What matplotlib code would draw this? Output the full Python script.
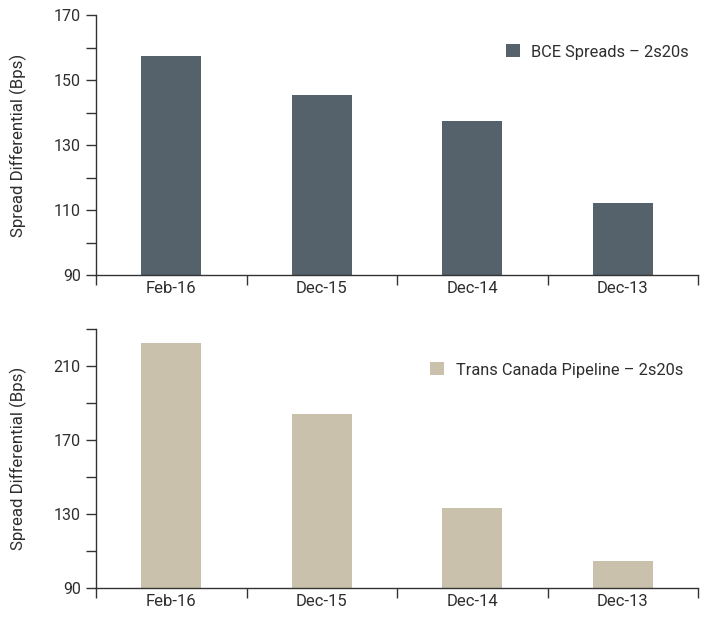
import matplotlib
matplotlib.use("Agg")
import matplotlib.pyplot as plt
from matplotlib.ticker import FixedLocator, NullFormatter

plt.rcParams['font.family'] = ['Roboto', 'DejaVu Sans']

categories = ["Feb-16", "Dec-15", "Dec-14", "Dec-13"]
bce_values = [157.3, 145.5, 137.3, 112.3]
tcp_values = [222.2, 184.0, 133.5, 104.7]
bce_label = "BCE Spreads – 2s20s"
tcp_label = "Trans Canada Pipeline – 2s20s"
ylabel = "Spread Differential (Bps)"

top_ylim = (90, 170)
top_major = [90, 110, 130, 150, 170]
top_minor = [100, 120, 140, 160]
bot_ylim = (90, 230)
bot_major = [90, 130, 170, 210]
bot_minor = [110, 150, 190, 230]

DARK = "#55626b"
BEIGE = "#c9c1ac"
TXT = "#2e2e2e"
SPINE = "#333333"

fig = plt.figure(figsize=(7.1, 6.2), dpi=100)
ax1 = fig.add_axes([96/710, 1-275/620, 602/710, 260/620])
ax2 = fig.add_axes([96/710, 1-588/620, 602/710, 259/620])

def style(ax, values, color, label, ylim, major, minor, leg_xy):
    x = list(range(len(categories)))
    ax.bar(x, values, width=0.4, color=color, label=label, zorder=2)
    ax.set_xlim(-0.5, len(categories) - 0.5)
    ax.set_ylim(*ylim)
    for s in ["top", "right"]:
        ax.spines[s].set_visible(False)
    for s in ["left", "bottom"]:
        ax.spines[s].set_color(SPINE)
        ax.spines[s].set_linewidth(1.0)
    ax.xaxis.set_major_locator(FixedLocator([i - 0.5 for i in range(len(categories) + 1)]))
    ax.xaxis.set_major_formatter(NullFormatter())
    ax.xaxis.set_minor_locator(FixedLocator(x))
    ax.set_xticklabels(categories, minor=True)
    ax.tick_params(axis="x", which="major", direction="out", length=7, width=1.0, color=SPINE)
    ax.tick_params(axis="x", which="minor", length=0, pad=4, labelsize=12, labelcolor=TXT)
    ax.yaxis.set_major_locator(FixedLocator(major))
    ax.yaxis.set_minor_locator(FixedLocator(minor))
    ax.tick_params(axis="y", which="both", direction="out", length=7, width=1.0, color=SPINE,
                   labelsize=11.5, labelcolor=TXT, pad=4)
    ax.set_ylabel(ylabel, fontsize=12.2, color=TXT)
    leg = ax.legend(loc="center right", bbox_to_anchor=leg_xy, frameon=False,
                    handlelength=0.85, handleheight=0.85, handletextpad=0.7,
                    borderpad=0, borderaxespad=0, fontsize=11.8)
    for t in leg.get_texts():
        t.set_color(TXT)

style(ax1, bce_values, DARK, bce_label, top_ylim, top_major, top_minor, (0.985, 0.858))
style(ax2, tcp_values, BEIGE, tcp_label, bot_ylim, bot_major, bot_minor, (0.975, 0.842))

ax1.yaxis.set_label_coords(-0.115, 0.5)
ax2.yaxis.set_label_coords(-0.115, 0.5)

fig.savefig("out.png", dpi=100)
